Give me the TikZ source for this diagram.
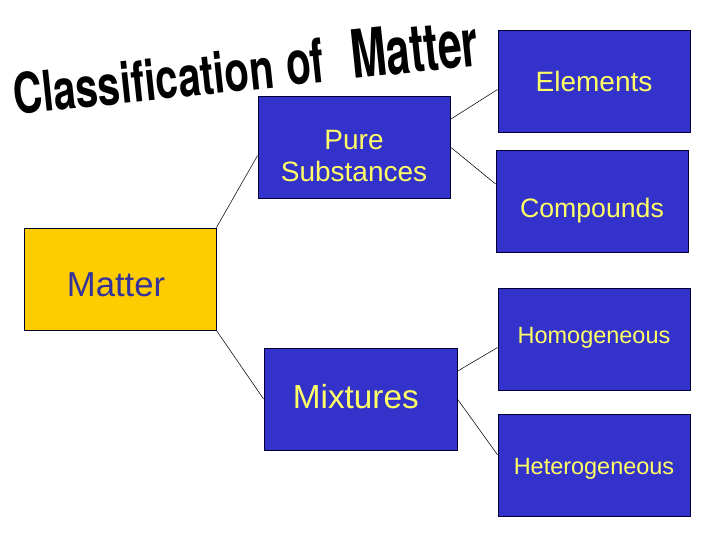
\documentclass[tikz,border=0pt]{standalone}
\usepackage{fontspec}
\setmainfont{Liberation Sans}
\newfontfamily\titlefont{TeX Gyre Heros}
\usetikzlibrary{positioning}

\definecolor{boxblue}{RGB}{51,51,204}
\definecolor{boxyellow}{RGB}{255,204,0}
\definecolor{txtyellow}{RGB}{255,255,102}
\definecolor{txtnavy}{RGB}{51,51,153}

\newcommand{\lowered}[2]{\raisebox{-#1}[\height][\depth]{#2}}

\tikzset{
    bluebox/.style={draw=black!80!blue, line width=0.6pt, fill=boxblue, text=txtyellow,
        minimum width=144pt, minimum height=76.5pt, align=center, inner sep=0pt},
    matterbox/.style={bluebox, fill=boxyellow, text=txtnavy},
    link/.style={draw=black, line width=0.4pt},
    titleword/.style={anchor=base west, rotate=6, inner sep=0pt, text=black}
}

\begin{document}
\begin{tikzpicture}[x=0.75pt, y=-0.75pt]
    \useasboundingbox (0,0) rectangle (720,540);

    \node[titleword, xscale=0.72] (tclass) at (15,115) {\titlefont\bfseries\fontsize{42}{42}\selectfont Classification};
    \node[titleword, xscale=0.66] (tof) at (288,86) {\titlefont\bfseries\fontsize{46}{46}\selectfont of};
    \node[titleword, xscale=0.64] (tmatter) at (353,79) {\titlefont\bfseries\fontsize{50}{50}\selectfont Matter};

    \node[matterbox, font=\fontsize{26}{28}\selectfont] (matter) at (120,279) {\hspace*{-6pt}\lowered{4.5pt}{Matter}};

    \node[bluebox, font=\fontsize{21}{25}\selectfont] (pure) at (354,147) {\lowered{8.5pt}{\begin{tabular}{@{}c@{}}Pure\\[-1pt]Substances\end{tabular}}};
    \node[bluebox, minimum width=144.75pt, font=\fontsize{25}{28}\selectfont] (mixt) at (360.5,399) {\hspace*{-7pt}\lowered{-2pt}{Mixtures}};

    \node[bluebox, font=\fontsize{21}{24}\selectfont] (elem) at (594,81) {Elements};
    \node[bluebox, font=\fontsize{20}{24}\selectfont] (comp) at (592,201) {\lowered{7pt}{Compounds}};
    \node[bluebox, font=\fontsize{17.6}{20}\selectfont] (homog) at (594,339) {\lowered{-1pt}{Homogeneous}};
    \node[bluebox, font=\fontsize{17.6}{20}\selectfont] (hetero) at (594,465) {\lowered{3pt}{Heterogeneous}};

    \draw[link] (matter.north east) -- (pure.185);
    \draw[link] (matter.south east) -- (mixt.west);

    \draw[link] (pure.16) -- (elem.185);
    \draw[link] (pure.east) -- (comp.170);

    \draw[link] (mixt.16) -- (homog.185);
    \draw[link] (mixt.east) -- (hetero.174);

\end{tikzpicture}
\end{document}
